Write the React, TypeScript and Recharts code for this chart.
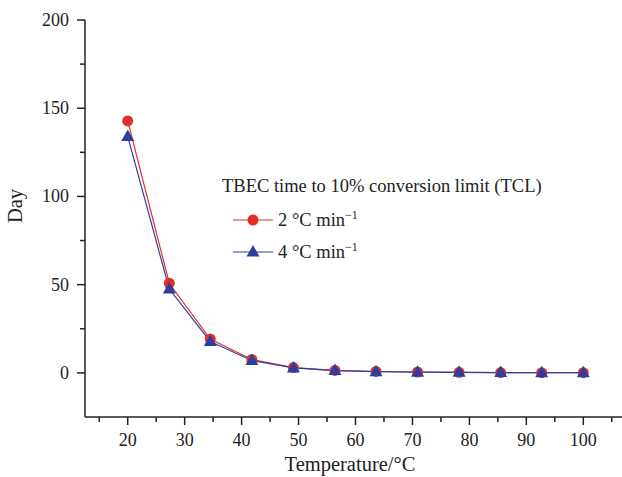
import { LineChart, Line, XAxis, YAxis, Legend } from "recharts";

// TCL (days) vs temperature for two heating rates
const temps = [20, 27.3, 34.5, 41.8, 49.1, 56.4, 63.6, 70.9, 78.2, 85.5, 92.7, 100];
const tclRate2 = [142.8, 50.8, 19.2, 7.6, 3.0, 1.4, 0.8, 0.5, 0.3, 0.2, 0.1, 0.1];
const tclRate4 = [134.0, 47.5, 17.8, 7.0, 2.8, 1.3, 0.7, 0.4, 0.3, 0.2, 0.1, 0.1];

const xTicks = [15, 20, 25, 30, 35, 40, 45, 50, 55, 60, 65, 70, 75, 80, 85, 90, 95, 100, 105];
const yTicks = [0, 25, 50, 75, 100, 125, 150, 175, 200];

const data = temps.map((t, i) => ({ t, r2: tclRate2[i], r4: tclRate4[i] }));

const FONT = "'Liberation Serif', 'Times New Roman', serif";
const RED = "#e1302a";
const BLUE = "#2d3f9e";
const AXIS = "#222";

function XTick(props: any) {
  const { x, y, payload } = props;
  const major = payload.value % 10 === 0;
  return (
    <g>
      <line x1={x} x2={x} y1={y} y2={y + (major ? 8 : 5)} stroke={AXIS} strokeWidth={1.5} />
      {major && (
        <text x={x} y={y + 29} textAnchor="middle" fontFamily={FONT} fontSize={18} fill={AXIS}>
          {payload.value}
        </text>
      )}
    </g>
  );
}

function YTick(props: any) {
  const { x, y, payload } = props;
  const major = payload.value % 50 === 0;
  return (
    <g>
      <line x1={x} x2={x - (major ? 8 : 5)} y1={y} y2={y} stroke={AXIS} strokeWidth={1.5} />
      {major && (
        <text x={x - 16} y={y + 6} textAnchor="end" fontFamily={FONT} fontSize={18} fill={AXIS}>
          {payload.value}
        </text>
      )}
    </g>
  );
}

function Triangle(props: any) {
  const { cx, cy, index } = props;
  if (cx == null || cy == null) return <g key={`tri-${index}`} />;
  return (
    <polygon
      key={`tri-${index}`}
      points={`${cx},${cy - 7} ${cx - 6.5},${cy + 4.5} ${cx + 6.5},${cy + 4.5}`}
      fill={BLUE}
    />
  );
}

function LegendBox() {
  const row = (top: number, color: string, tri: boolean, label: string) => (
    <div style={{ position: "absolute", left: 233, top: top - 12, height: 24, display: "flex", alignItems: "center" }}>
      <svg width={42} height={24}>
        <line x1={0} x2={40} y1={12} y2={12} stroke={color} strokeWidth={1.2} />
        {tri ? (
          <polygon points="20,5 13.5,16.5 26.5,16.5" fill={color} />
        ) : (
          <circle cx={20} cy={12} r={5.5} fill={color} />
        )}
      </svg>
      <span style={{ fontFamily: FONT, fontSize: 18.5, color: AXIS, marginLeft: 3, whiteSpace: "nowrap" }}>
        {label}
        <sup style={{ fontSize: 12 }}>−1</sup>
      </span>
    </div>
  );
  return (
    <div style={{ position: "relative", width: 622, height: 477 }}>
      <div
        style={{
          position: "absolute",
          left: 222,
          top: 176,
          fontFamily: FONT,
          fontSize: 18.5,
          color: AXIS,
          whiteSpace: "nowrap",
        }}
      >
        TBEC time to 10% conversion limit (TCL)
      </div>
      {row(220, RED, false, "2 °C min")}
      {row(252, BLUE, true, "4 °C min")}
    </div>
  );
}

export default function App() {
  return (
    <div
      style={{
        position: "absolute",
        left: 0,
        top: 0,
        width: 622,
        height: 477,
        overflow: "hidden",
        background: "#fff",
      }}
    >
      <LineChart
        width={626}
        height={477}
        data={data}
        margin={{ top: 20, right: 0, left: 45, bottom: 20 }}
      >
        <XAxis
          dataKey="t"
          type="number"
          domain={[12.5, 107.5]}
          ticks={xTicks}
          interval={0}
          allowDataOverflow
          height={40}
          tickSize={0}
          tickMargin={0}
          stroke={AXIS}
          strokeWidth={1.5}
          tick={(p: any) => <XTick {...p} />}
          label={{
            content: () => (
              <text x={350} y={471} textAnchor="middle" fontFamily={FONT} fontSize={20.5} fill={AXIS}>
                Temperature/°C
              </text>
            ),
          }}
        />
        <YAxis
          type="number"
          domain={[-25, 200]}
          ticks={yTicks}
          interval={0}
          allowDataOverflow
          width={40}
          tickSize={0}
          tickMargin={0}
          stroke={AXIS}
          strokeWidth={1.5}
          tick={(p: any) => <YTick {...p} />}
          label={{
            content: () => (
              <text
                x={22}
                y={206}
                transform="rotate(-90 22 206)"
                textAnchor="middle"
                fontFamily={FONT}
                fontSize={20.5}
                fill={AXIS}
              >
                Day
              </text>
            ),
          }}
        />
        <Legend
          layout="vertical"
          align="center"
          verticalAlign="middle"
          wrapperStyle={{ position: "absolute", left: 0, top: 0, width: 622, height: 477, pointerEvents: "none" }}
          content={() => <LegendBox />}
        />
        <Line
          dataKey="r2"
          stroke={RED}
          strokeWidth={1.2}
          dot={{ r: 5.5, fill: RED, stroke: RED, strokeWidth: 0 }}
          activeDot={false}
          isAnimationActive={false}
        />
        <Line
          dataKey="r4"
          stroke={BLUE}
          strokeWidth={1.2}
          dot={(p: any) => <Triangle {...p} />}
          activeDot={false}
          isAnimationActive={false}
        />
      </LineChart>
    </div>
  );
}
